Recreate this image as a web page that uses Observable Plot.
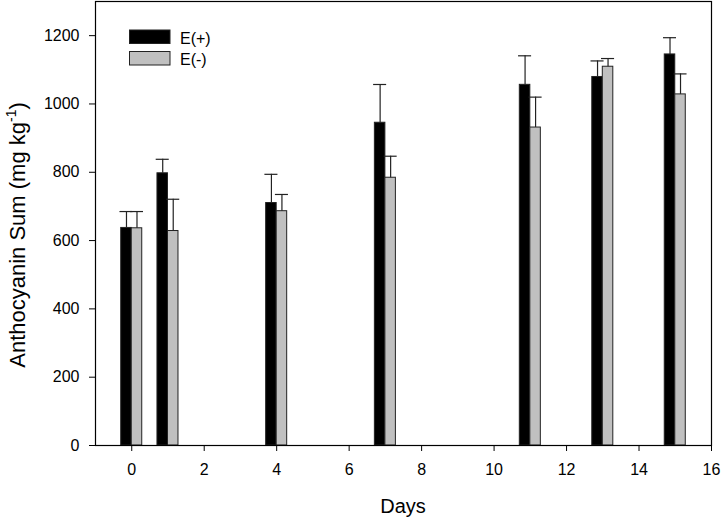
<!DOCTYPE html>
<html>
<head>
<meta charset="utf-8">
<script src="https://cdn.jsdelivr.net/npm/d3@7"></script>
<script src="https://cdn.jsdelivr.net/npm/@observablehq/plot@0.6"></script>
<style>
  body { margin: 0; background: #fff; }
  #chart svg { display: block; }
</style>
</head>
<body>
<div id="chart"></div>
<script>
const days = [0, 1, 4, 7, 11, 13, 15];
const ePlus = [637, 797, 710, 945, 1056, 1079, 1145];
const ePlusErrTop = [685, 838, 794, 1057, 1141, 1126, 1194];
const eMinus = [636, 628, 686, 784, 931, 1109, 1028];
const eMinusErrTop = [685, 721, 735, 847, 1020, 1133, 1088];
const groups = ["E(+)", "E(-)"];
const xTicks = [0, 2, 4, 6, 8, 10, 12, 14, 16];
const yTicks = [0, 200, 400, 600, 800, 1000, 1200];

const barW = 0.29;
const capHalf = 0.18;
const rows = [];
days.forEach((d, i) => {
  rows.push({day: d, group: groups[0], value: ePlus[i], top: ePlusErrTop[i], side: -1});
  rows.push({day: d, group: groups[1], value: eMinus[i], top: eMinusErrTop[i], side: 1});
});
const center = r => r.day + r.side * barW / 2;

const W = 722, H = 520;
const mL = 95, mR = 11, mT = 1, mB = 75;
const font = "'Liberation Sans', Arial, sans-serif";

const plot = Plot.plot({
  width: W,
  height: H,
  marginLeft: mL,
  marginRight: mR,
  marginTop: mT,
  marginBottom: mB,
  style: {fontFamily: font, fontSize: "16px", color: "#000", background: "#fff"},
  x: {domain: [-1, 16], label: null},
  y: {domain: [0, 1300], label: null},
  color: {domain: groups, range: ["#000000", "#c0c0c0"]},
  marks: [
    Plot.rect(rows, {
      x1: r => r.side < 0 ? r.day - barW : r.day,
      x2: r => r.side < 0 ? r.day : r.day + barW,
      y1: 0,
      y2: "value",
      fill: "group",
      stroke: "#222",
      strokeWidth: 1
    }),
    Plot.ruleX(rows, {x: center, y1: "value", y2: "top", stroke: "#222", strokeWidth: 1.2}),
    Plot.ruleY(rows, {y: "top", x1: r => center(r) - capHalf, x2: r => center(r) + capHalf, stroke: "#222", strokeWidth: 1.2}),
    Plot.frame({stroke: "#000", strokeWidth: 1.2}),
    Plot.axisX({ticks: xTicks, tickSize: 6, tickPadding: 12, label: null, fontSize: 16, tickFormat: d3.format("d")}),
    Plot.axisY({ticks: yTicks, tickSize: 6, tickPadding: 10, label: null, fontSize: 16, tickFormat: d3.format("d")})
  ]
});

document.getElementById("chart").appendChild(plot);

// Axis titles and legend
const svg = d3.select(plot);

svg.append("text")
  .attr("x", mL + (W - mL - mR) / 2)
  .attr("y", 513)
  .attr("text-anchor", "middle")
  .attr("font-family", font)
  .attr("font-size", 20)
  .attr("fill", "#000")
  .text("Days");

const yt = svg.append("text")
  .attr("transform", `translate(25, 235) rotate(-90)`)
  .attr("text-anchor", "middle")
  .attr("font-family", font)
  .attr("font-size", 22)
  .attr("fill", "#000");
yt.append("tspan").text("Anthocyanin Sum (mg kg");
yt.append("tspan").attr("dy", -9).attr("font-size", 14).text("-1");
yt.append("tspan").attr("dy", 9).text(")");

const legendFill = ["#000000", "#c0c0c0"];
groups.forEach((g, i) => {
  const y0 = 30 + i * 21.5;
  svg.append("rect")
    .attr("x", 129.5).attr("y", y0)
    .attr("width", 40.5).attr("height", 13.5)
    .attr("fill", legendFill[i])
    .attr("stroke", "#222").attr("stroke-width", 1);
  svg.append("text")
    .attr("x", 180).attr("y", y0 + 13.5)
    .attr("text-anchor", "start")
    .attr("font-family", font)
    .attr("font-size", 16)
    .attr("fill", "#000")
    .text(g);
});
</script>
</body>
</html>
